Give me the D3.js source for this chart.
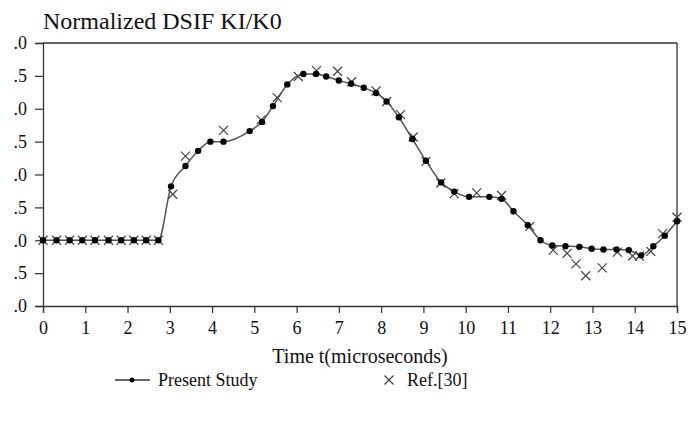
<!DOCTYPE html>
<html><head><meta charset="utf-8">
<script src="https://cdn.jsdelivr.net/npm/d3@7"></script>
<style>body{margin:0;background:#fff}svg{display:block}</style>
</head><body>
<svg id="c" width="688" height="421"></svg>
<script>
const title = "Normalized DSIF KI/K0";
const xTitle = "Time t(microseconds)";
const seriesNames = ["Present Study", "Ref.[30]"];
const xTicks = [0,1,2,3,4,5,6,7,8,9,10,11,12,13,14,15];
const yTicks = [-1.0,-0.5,0.0,0.5,1.0,1.5,2.0,2.5,3.0];
// tick labels as visible in the reference (leading digits cropped off in the source)
const yTickLabels = [".0",".5",".0",".5",".0",".5",".0",".5",".0"];

const presentT = [0,0.32,0.63,0.93,1.23,1.55,1.85,2.15,2.44,2.73,3.03,3.37,3.67,3.96,4.27,4.89,5.18,5.44,5.78,6.16,6.46,6.70,7.00,7.29,7.59,7.88,8.13,8.42,8.74,9.06,9.42,9.73,10.08,10.56,10.85,11.13,11.47,11.77,12.05,12.36,12.69,12.98,13.26,13.57,13.86,14.15,14.44,14.71,15.0];
const presentV = [0,0,0,0,0,0,0,0,0,0,0.82,1.13,1.36,1.50,1.50,1.66,1.80,2.04,2.37,2.53,2.53,2.49,2.43,2.38,2.32,2.24,2.11,1.87,1.54,1.21,0.88,0.74,0.66,0.66,0.63,0.44,0.23,0.00,-0.08,-0.09,-0.10,-0.13,-0.14,-0.14,-0.15,-0.23,-0.09,0.07,0.29];

const refT = [0,0.32,0.63,0.93,1.23,1.55,1.85,2.15,2.44,2.73,3.07,3.37,4.27,5.16,5.54,6.04,6.47,6.97,7.30,7.88,8.13,8.46,8.76,9.06,9.41,9.73,10.26,10.85,11.52,12.07,12.40,12.61,12.84,13.23,13.59,13.95,14.11,14.38,14.66,15.0];
const refV = [0,0,0,0,0,0,0,0,0,0,0.70,1.28,1.67,1.83,2.17,2.49,2.58,2.57,2.41,2.27,2.11,1.91,1.57,1.20,0.87,0.71,0.72,0.68,0.21,-0.15,-0.20,-0.36,-0.54,-0.42,-0.18,-0.24,-0.24,-0.17,0.10,0.35];

const svg = d3.select("#c");
const font = "'Liberation Serif','Times New Roman',serif";
const axisColor = "#333";
const x = d3.scaleLinear().domain([0,15]).range([43,677]);
const y = d3.scaleLinear().domain([-1,3]).range([306,43]);

// title
svg.append("text").attr("x",43).attr("y",29).attr("font-family",font)
  .attr("font-size",24).attr("fill","#111").text(title);

// frame top and right
svg.append("line").attr("x1",x(0)).attr("x2",x(15)).attr("y1",y(3)).attr("y2",y(3))
  .attr("stroke",axisColor).attr("stroke-width",1.3);
svg.append("line").attr("x1",x(15)).attr("x2",x(15)).attr("y1",y(3)).attr("y2",y(-1))
  .attr("stroke",axisColor).attr("stroke-width",1.3);

// x axis
const gx = svg.append("g").attr("transform",`translate(0,${y(-1)})`)
  .call(d3.axisBottom(x).tickValues(xTicks).tickSize(7).tickPadding(8).tickFormat(d3.format("d")));
gx.select(".domain").attr("stroke",axisColor).attr("stroke-width",1.3);
gx.selectAll(".tick line").attr("stroke",axisColor).attr("stroke-width",1.2);
gx.selectAll(".tick text").attr("font-family",font).attr("font-size",18).attr("fill","#111");

// y axis
const gy = svg.append("g").attr("transform",`translate(${x(0)},0)`)
  .call(d3.axisLeft(y).tickValues(yTicks).tickSize(8).tickPadding(8)
    .tickFormat((d,i)=>yTickLabels[i]));
gy.select(".domain").attr("stroke",axisColor).attr("stroke-width",1.3);
gy.selectAll(".tick line").attr("stroke",axisColor).attr("stroke-width",1.2);
gy.selectAll(".tick text").attr("font-family",font).attr("font-size",18).attr("fill","#111");

// x title
svg.append("text").attr("x",(x(0)+x(15))/2).attr("y",363).attr("text-anchor","middle")
  .attr("font-family",font).attr("font-size",20).attr("fill","#111").text(xTitle);

// present study line
const present = presentT.map((t,i)=>[t,presentV[i]]);
const ref = refT.map((t,i)=>[t,refV[i]]);
const line = d3.line().x(d=>x(d[0])).y(d=>y(d[1])).curve(d3.curveMonotoneX);
svg.append("path").datum(present).attr("d",line).attr("fill","none")
  .attr("stroke","#555").attr("stroke-width",1.5);

// crosses
const cs = 4.5;
const crossPath = (cx,cy)=>`M${cx-cs},${cy-cs}L${cx+cs},${cy+cs}M${cx-cs},${cy+cs}L${cx+cs},${cy-cs}`;
svg.append("g").selectAll("path").data(ref).join("path")
  .attr("d",d=>crossPath(x(d[0]),y(d[1]))).attr("stroke","#444").attr("stroke-width",1.2).attr("fill","none");

// dots
svg.append("g").selectAll("circle").data(present).join("circle")
  .attr("cx",d=>x(d[0])).attr("cy",d=>y(d[1])).attr("r",3.2).attr("fill","#000");

// legend
const ly = 380;
svg.append("line").attr("x1",115).attr("x2",150).attr("y1",ly).attr("y2",ly).attr("stroke","#333").attr("stroke-width",1.5);
svg.append("circle").attr("cx",132).attr("cy",ly).attr("r",2.5).attr("fill","#000");
svg.append("text").attr("x",158).attr("y",ly+6).attr("font-family",font).attr("font-size",18).attr("fill","#111").text(seriesNames[0]);
svg.append("path").attr("d",crossPath(389,ly)).attr("stroke","#444").attr("stroke-width",1.2);
svg.append("text").attr("x",407).attr("y",ly+6).attr("font-family",font).attr("font-size",18).attr("fill","#111").text(seriesNames[1]);
</script>
</body></html>
